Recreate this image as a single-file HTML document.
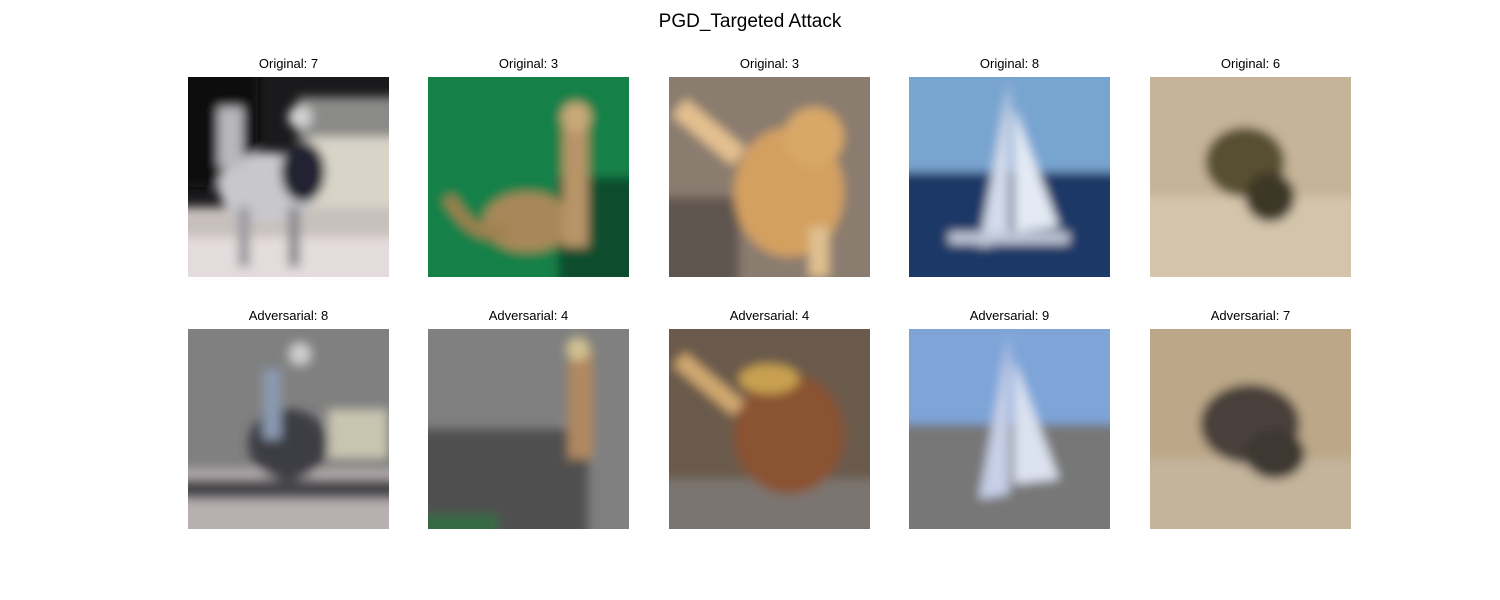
<!DOCTYPE html>
<html><head><meta charset="utf-8"><style>
body{margin:0;width:1500px;height:600px;background:#fff;position:relative;overflow:hidden;font-family:"Liberation Sans","DejaVu Sans",sans-serif;}
.t{position:absolute;top:11px;left:0;width:1500px;text-align:center;font-size:19px;color:#000;}
.l{position:absolute;width:201px;text-align:center;font-size:13px;color:#000;}
.im{position:absolute;width:201px;height:200px;overflow:hidden;}
svg{display:block}
</style></head><body>
<div class="t">PGD_Targeted Attack</div>
<svg width="0" height="0" style="position:absolute"><defs><filter id="b" x="-20%" y="-20%" width="140%" height="140%"><feGaussianBlur stdDeviation="5"/></filter></defs></svg>

<div class="l" style="left:188px;top:56px">Original: 7</div>
<div class="l" style="left:428px;top:56px">Original: 3</div>
<div class="l" style="left:669px;top:56px">Original: 3</div>
<div class="l" style="left:909px;top:56px">Original: 8</div>
<div class="l" style="left:1150px;top:56px">Original: 6</div>
<div class="l" style="left:188px;top:308px">Adversarial: 8</div>
<div class="l" style="left:428px;top:308px">Adversarial: 4</div>
<div class="l" style="left:669px;top:308px">Adversarial: 4</div>
<div class="l" style="left:909px;top:308px">Adversarial: 9</div>
<div class="l" style="left:1150px;top:308px">Adversarial: 7</div>

<!-- row 1 -->
<div class="im" style="left:188px;top:77px;background:#1a1a1c"><svg width="201" height="200"><g filter="url(#b)">
<rect x="-10" y="-10" width="80" height="120" fill="#0e0e10"/><rect x="110" y="20" width="110" height="110" fill="#8a8a88"/><rect x="120" y="60" width="100" height="80" fill="#d8d4c8"/>
<rect x="-10" y="130" width="230" height="90" fill="#c8c0bc"/><rect x="-10" y="160" width="230" height="50" fill="#e4dcdc"/>
<ellipse cx="80" cy="110" rx="50" ry="35" fill="#c8c8cc"/><rect x="30" y="30" width="25" height="60" fill="#b8b8bc"/><ellipse cx="115" cy="95" rx="22" ry="30" fill="#222230"/><circle cx="112" cy="40" r="12" fill="#d0d0d0"/>
<rect x="50" y="130" width="12" height="60" fill="#9a9aa0"/><rect x="100" y="130" width="12" height="60" fill="#8a8a90"/></g></svg></div>

<div class="im" style="left:428px;top:77px;background:#107a45"><svg width="201" height="200"><g filter="url(#b)">
<rect x="-10" y="-10" width="230" height="220" fill="#138048"/><rect x="130" y="100" width="90" height="110" fill="#0d4e2e"/>
<ellipse cx="100" cy="145" rx="45" ry="30" fill="#a8885a"/><rect x="135" y="40" width="25" height="130" fill="#b89468"/><circle cx="148" cy="40" r="15" fill="#c8a878"/>
<path d="M20 120 Q50 170 80 150" stroke="#a08050" stroke-width="12" fill="none"/></g></svg></div>

<div class="im" style="left:669px;top:77px;background:#8a7a6a"><svg width="201" height="200"><g filter="url(#b)">
<rect x="-10" y="-10" width="230" height="220" fill="#8a7c6e"/><rect x="-10" y="120" width="80" height="100" fill="#5e5450"/>
<ellipse cx="120" cy="115" rx="55" ry="65" fill="#d4a060"/><ellipse cx="145" cy="60" rx="30" ry="30" fill="#d8a868"/>
<path d="M10 30 L70 80" stroke="#e4c090" stroke-width="22"/><rect x="140" y="150" width="20" height="50" fill="#e0c090"/></g></svg></div>

<div class="im" style="left:909px;top:77px;background:#6e9ccc"><svg width="201" height="200"><g filter="url(#b)">
<rect x="-10" y="-10" width="230" height="105" fill="#78a4d0"/><rect x="-10" y="95" width="230" height="120" fill="#1a3766"/>
<polygon points="100,5 70,170 100,165" fill="#d4dcec"/><polygon points="105,30 150,150 105,155" fill="#e4eaf4"/>
<rect x="40" y="155" width="120" height="12" fill="#c0c8d8"/></g></svg></div>

<div class="im" style="left:1150px;top:77px;background:#c8b89c"><svg width="201" height="200"><g filter="url(#b)">
<rect x="-10" y="-10" width="230" height="220" fill="#c6b498"/><rect x="-10" y="120" width="230" height="100" fill="#d4c4ac"/>
<ellipse cx="95" cy="85" rx="40" ry="35" fill="#585030"/><ellipse cx="120" cy="120" rx="25" ry="25" fill="#3e3828"/></g></svg></div>

<!-- row 2 -->
<div class="im" style="left:188px;top:329px;background:#808080"><svg width="201" height="200"><g filter="url(#b)">
<rect x="-10" y="140" width="230" height="70" fill="#b8b0b0"/><rect x="-10" y="150" width="230" height="20" fill="#444448"/>
<ellipse cx="100" cy="115" rx="40" ry="35" fill="#3e3e44"/><rect x="75" y="40" width="18" height="70" fill="#8a9ab0"/><circle cx="112" cy="25" r="12" fill="#cccccc"/>
<rect x="140" y="80" width="60" height="50" fill="#c8c4b0"/></g></svg></div>

<div class="im" style="left:428px;top:329px;background:#808080"><svg width="201" height="200"><g filter="url(#b)">
<rect x="-10" y="100" width="170" height="110" fill="#505050"/><rect x="-10" y="185" width="80" height="30" fill="#356a45"/>
<rect x="140" y="20" width="25" height="110" fill="#b08860"/><circle cx="150" cy="20" r="12" fill="#d0c090"/></g></svg></div>

<div class="im" style="left:669px;top:329px;background:#6a5848"><svg width="201" height="200"><g filter="url(#b)">
<rect x="-10" y="-10" width="230" height="220" fill="#6a5a4c"/><rect x="-10" y="150" width="230" height="60" fill="#7a7470"/>
<ellipse cx="120" cy="105" rx="55" ry="60" fill="#8a5230"/><ellipse cx="100" cy="50" rx="30" ry="15" fill="#c8a050"/>
<path d="M10 30 L70 80" stroke="#d0a870" stroke-width="18"/></g></svg></div>

<div class="im" style="left:909px;top:329px;background:#808080"><svg width="201" height="200"><g filter="url(#b)">
<rect x="-10" y="-10" width="230" height="105" fill="#7ea4d8"/><rect x="-10" y="95" width="230" height="120" fill="#777777"/>
<polygon points="100,5 70,170 100,165" fill="#c8d0e8"/><polygon points="105,30 150,150 105,155" fill="#dce2f0"/></g></svg></div>

<div class="im" style="left:1150px;top:329px;background:#bca888"><svg width="201" height="200"><g filter="url(#b)">
<rect x="-10" y="-10" width="230" height="220" fill="#bca888"/><rect x="-10" y="130" width="230" height="80" fill="#c4b49c"/>
<ellipse cx="100" cy="95" rx="50" ry="40" fill="#48403a"/><ellipse cx="125" cy="125" rx="30" ry="25" fill="#3e3830"/></g></svg></div>
</body></html>
